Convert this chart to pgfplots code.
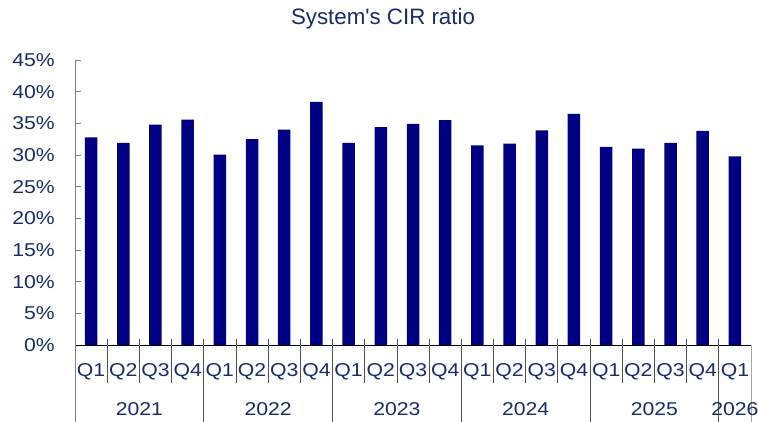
\documentclass[border=0pt]{standalone}
\usepackage{fontspec}
\setmainfont{Liberation Sans}
\newfontfamily\plainsans{Liberation Sans}
\usepackage{graphicx}
\usepackage{pgfplots}
\pgfplotsset{compat=1.18}
\definecolor{txt}{RGB}{25,45,100}
\definecolor{barc}{RGB}{0,0,128}
\definecolor{sep}{RGB}{80,80,80}
\newcommand\sx[1]{\scalebox{1.14}[1]{#1}}
\begin{document}
\begin{tikzpicture}[x=1pt,y=1pt]
\path[use as bounding box] (0,0) rectangle (758,422);
\node[anchor=base, text=txt, font=\plainsans\fontsize{22.3}{24}\selectfont, inner sep=0pt] at (383,397) {System's CIR ratio};
\begin{axis}[
  at={(75pt,77pt)}, anchor=south west,
  scale only axis, width=676pt, height=285pt,
  xmin=0, xmax=21, ymin=0, ymax=45,
  axis lines*=left,
  x axis line style={black, line width=0.8pt},
  y axis line style={black!50, line width=0.8pt},
  ytick={0,5,...,45},
  yticklabel={\sx{\pgfmathprintnumber{\tick}\%}},
  /pgf/number format/assume math mode=true,
  yticklabel style={anchor=east, inner sep=0pt, xshift=-20pt, text=txt, font=\fontsize{18.6}{20}\selectfont},
  tick align=inside,
  major tick length=6pt,
  ytick style={black!50, line width=0.8pt},
  xtick={0.5,1.5,...,20.5},
  xticklabels={\sx{Q1},\sx{Q2},\sx{Q3},\sx{Q4},\sx{Q1},\sx{Q2},\sx{Q3},\sx{Q4},\sx{Q1},\sx{Q2},\sx{Q3},\sx{Q4},\sx{Q1},\sx{Q2},\sx{Q3},\sx{Q4},\sx{Q1},\sx{Q2},\sx{Q3},\sx{Q4},\sx{Q1}},
  xtick style={draw=none},
  xticklabel style={anchor=base, inner sep=0pt, yshift=-32pt, text=txt, font=\fontsize{18.6}{20}\selectfont},
  clip=false,
]
\addplot[ybar, bar width=12.5pt, fill=barc, draw=none] coordinates {
(0.5,32.8) (1.5,31.9) (2.5,34.8) (3.5,35.6)
(4.5,30.05) (5.5,32.5) (6.5,34.0) (7.5,38.4)
(8.5,31.9) (9.5,34.4) (10.5,34.9) (11.5,35.5)
(12.5,31.5) (13.5,31.8) (14.5,33.9) (15.5,36.5)
(16.5,31.3) (17.5,31.0) (18.5,31.9) (19.5,33.8)
(20.5,29.8)};
% quarter separators
\pgfplotsinvokeforeach{1,2,3,5,6,7,9,10,11,13,14,15,17,18,19}{
  \draw[sep, line width=0.8pt] ([yshift=6pt]axis cs:#1,0) -- ([yshift=-38pt]axis cs:#1,0);
}
% year separators
\pgfplotsinvokeforeach{4,8,12,16,20}{
  \draw[sep, line width=0.8pt] ([yshift=6pt]axis cs:#1,0) -- ([yshift=-77pt]axis cs:#1,0);
}
\draw[black!50, line width=0.8pt] (axis cs:0,0) -- ([yshift=-77pt]axis cs:0,0);
\draw[black!35, line width=0.8pt] (axis cs:21,0) -- ([yshift=-77pt]axis cs:21,0);
% year labels
\node[anchor=base, inner sep=0pt, text=txt, font=\fontsize{18.6}{20}\selectfont] at ([yshift=-71pt]axis cs:2,0) {\sx{2021}};
\node[anchor=base, inner sep=0pt, text=txt, font=\fontsize{18.6}{20}\selectfont] at ([yshift=-71pt]axis cs:6,0) {\sx{2022}};
\node[anchor=base, inner sep=0pt, text=txt, font=\fontsize{18.6}{20}\selectfont] at ([yshift=-71pt]axis cs:10,0) {\sx{2023}};
\node[anchor=base, inner sep=0pt, text=txt, font=\fontsize{18.6}{20}\selectfont] at ([yshift=-71pt]axis cs:14,0) {\sx{2024}};
\node[anchor=base, inner sep=0pt, text=txt, font=\fontsize{18.6}{20}\selectfont] at ([yshift=-71pt]axis cs:18,0) {\sx{2025}};
\node[anchor=base, inner sep=0pt, text=txt, font=\fontsize{18.6}{20}\selectfont] at ([yshift=-71pt]axis cs:20.5,0) {\sx{2026}};
\end{axis}
\end{tikzpicture}
\end{document}
